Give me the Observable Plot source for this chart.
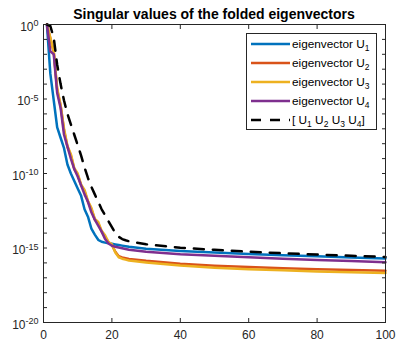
<!DOCTYPE html>
<html><head><meta charset="utf-8">
<script src="https://cdn.jsdelivr.net/npm/d3@7"></script>
<script src="https://cdn.jsdelivr.net/npm/@observablehq/plot@0.6"></script>
<style>
body{margin:0;background:#fff;}
#wrap{position:relative;width:396px;height:342px;}
#title{position:absolute;left:43px;width:342px;top:6px;text-align:center;font:bold 14px 'Liberation Sans',Arial,sans-serif;color:#000;line-height:16px;white-space:nowrap;}
</style></head><body>
<div id="wrap"><div id="title">Singular values of the folded eigenvectors</div></div>
<script>
// index of singular value
const idx = [1,2,3,4,5,6,7,8,9,10,11,12,13,14,15,16,17,18,19,20,21,22,23,24,25,30,40,50,60,70,80,90,100];
// log10 of singular values
const expU1 = [0,-3.3,-5.1,-6.9,-7.6,-8.3,-9.4,-10.0,-10.5,-11.0,-11.5,-12.4,-12.9,-13.7,-14.1,-14.45,-14.58,-14.64,-14.68,-14.72,-14.76,-14.8,-14.84,-14.88,-14.92,-15.05,-15.2,-15.3,-15.4,-15.48,-15.56,-15.63,-15.7];
const expU2 = [0,-0.95,-1.85,-4.4,-5.45,-7.1,-8.2,-8.8,-9.7,-10.1,-10.8,-11.2,-11.9,-12.4,-13.1,-13.35,-13.9,-14.25,-14.62,-14.8,-15.25,-15.55,-15.63,-15.68,-15.73,-15.86,-16.06,-16.19,-16.28,-16.36,-16.42,-16.47,-16.52];
const expU3 = [0,-0.9,-1.8,-4.3,-5.4,-7.0,-8.15,-8.7,-9.65,-10.0,-10.75,-11.1,-11.85,-12.3,-13.05,-13.25,-13.85,-14.15,-14.6,-14.75,-15.3,-15.62,-15.72,-15.78,-15.84,-15.97,-16.18,-16.32,-16.42,-16.5,-16.57,-16.63,-16.68];
const expU4 = [0,-1.8,-2.0,-4.6,-5.6,-7.4,-8.2,-9.0,-9.7,-10.2,-10.8,-11.4,-11.9,-12.6,-13.1,-13.5,-13.9,-14.4,-14.7,-14.85,-14.92,-14.97,-15.02,-15.07,-15.12,-15.25,-15.42,-15.52,-15.62,-15.72,-15.8,-15.88,-15.95];
const expAll = [0,-0.1,-0.9,-2.7,-4.0,-5.1,-6.0,-6.7,-7.4,-8.1,-8.8,-9.6,-10.3,-10.9,-11.4,-11.9,-12.4,-12.8,-13.2,-13.6,-14.0,-14.25,-14.4,-14.48,-14.55,-14.75,-14.98,-15.12,-15.25,-15.35,-15.44,-15.52,-15.6];

const seriesNames = ["U1","U2","U3","U4","all"];
const seriesExps = [expU1, expU2, expU3, expU4, expAll];
const seriesColors = ["#0072BD","#D95319","#EDB120","#7E2F8E","#000000"];
const legendSubs = ["1","2","3","4"];

const xTicks = [0,20,40,60,80,100];
const yTickExps = d3.range(-20, 1);
const yLabelExps = [-20,-15,-10,-5,0];

const table = seriesNames.map((s, k) => idx.map((i, j) => ({series: s, i, v: Math.pow(10, seriesExps[k][j])})));

const axisColor = "#262626";
const lines = table.map((rows, k) => Plot.line(rows, {
  x: "i", y: "v", stroke: seriesColors[k], strokeWidth: 2.5,
  strokeDasharray: k === 4 ? "10,9" : null, strokeLinejoin: "round"
}));

const plot = Plot.plot({
  width: 396, height: 342,
  marginLeft: 43, marginRight: 11, marginTop: 24, marginBottom: 20,
  style: {fontFamily: "'Liberation Sans', Arial, sans-serif", fontSize: "12px", color: axisColor, background: "white"},
  x: {domain: [0, 100]},
  y: {type: "log", domain: [1e-20, 1]},
  marks: [
    ...lines,
    Plot.frame({stroke: axisColor, strokeWidth: 1}),
    Plot.axisY({anchor: "left", ticks: yTickExps.map(e => Math.pow(10, e)), tickSize: -4, tickFormat: () => null, label: null}),
    Plot.axisY({anchor: "right", ticks: yTickExps.map(e => Math.pow(10, e)), tickSize: -4, tickFormat: () => null, label: null}),
    Plot.axisY({anchor: "left", ticks: yLabelExps.map(e => Math.pow(10, e)), tickSize: 0, tickPadding: 5, dy: 2.5,
      tickFormat: d => String(Math.round(Math.log10(d))), label: null}),
    Plot.axisX({anchor: "bottom", ticks: xTicks, tickSize: -4, tickFormat: () => null, label: null}),
    Plot.axisX({anchor: "top", ticks: xTicks, tickSize: -4, tickFormat: () => null, label: null}),
    Plot.axisX({anchor: "bottom", ticks: xTicks, tickSize: 0, tickPadding: 8, tickFormat: d => String(d), label: null})
  ]
});

document.getElementById("wrap").appendChild(plot);
const svg = d3.select(plot);

// drop empty tick texts left by tick-only axes
svg.selectAll("text").filter(function() { return this.textContent.trim() === "" || this.textContent === "null"; }).remove();

// superscript tick labels 10^n
svg.selectAll('g[aria-label="y-axis tick label"] text').each(function() {
  const t = d3.select(this);
  const e = t.text();
  t.text(null);
  t.append("tspan").text("10");
  t.append("tspan").attr("dy", "-4.5").attr("font-size", "9px").text(e);
});

// legend
const lg = svg.append("g").attr("font-family", "'Liberation Sans', Arial, sans-serif")
  .attr("font-size", "11.8px").attr("text-anchor", "start");
lg.append("rect").attr("x", 246.5).attr("y", 33.5).attr("width", 130).attr("height", 96)
  .attr("fill", "white").attr("stroke", axisColor).attr("stroke-width", 1);
const rowY = [44, 63, 82, 101, 120];
seriesNames.forEach((s, k) => {
  lg.append("line").attr("x1", 251).attr("x2", 290).attr("y1", rowY[k]).attr("y2", rowY[k])
    .attr("stroke", seriesColors[k]).attr("stroke-width", 2.5)
    .attr("stroke-dasharray", k === 4 ? "10,9" : null);
  const t = lg.append("text").attr("x", 292).attr("y", rowY[k] + 4).attr("fill", "#000");
  if (k < 4) {
    t.append("tspan").text("eigenvector U");
    t.append("tspan").attr("font-size", "8.5px").attr("dy", 3).text(legendSubs[k]);
  } else {
    legendSubs.forEach((n, m) => {
      t.append("tspan").attr("dy", m === 0 ? 0 : -3).text(m === 0 ? "[ U" : " U");
      t.append("tspan").attr("font-size", "8.5px").attr("dy", 3).text(n);
    });
    t.append("tspan").attr("dy", -3).text("]");
  }
});
</script>
</body></html>
